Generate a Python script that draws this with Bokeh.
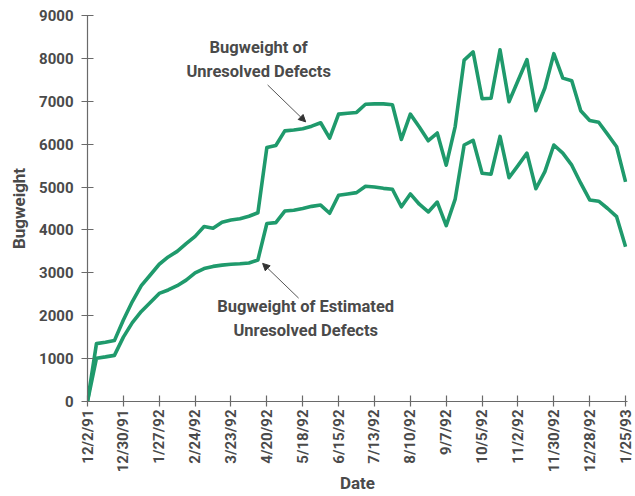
import pandas as pd
from math import pi
from bokeh.plotting import figure
from bokeh.models import Range1d, FixedTicker, Label, Arrow, NormalHead, ColumnDataSource
from bokeh.embed import file_html
from bokeh.resources import INLINE

# ---- data (weekly samples) ----
first_week = "1991-12-02"
n_weeks = 61

unresolved = [0, 1350, 1380, 1420, 1900, 2330, 2700, 2950, 3200, 3370,
              3500, 3680, 3850, 4080, 4040, 4180, 4230, 4260, 4320, 4400,
              5920, 5970, 6310, 6330, 6360, 6420, 6500, 6140, 6700, 6720,
              6740, 6930, 6940, 6940, 6920, 6110, 6700, 6400, 6080, 6260,
              5510, 6410, 7960, 8150, 7060, 7070, 8200, 6990, 7480, 7970,
              6780, 7310, 8110, 7540, 7480, 6780, 6550, 6510, 6230, 5940,
              5120]

estimated = [0, 1010, 1040, 1075, 1500, 1840, 2100, 2310, 2520, 2600,
             2700, 2830, 3000, 3100, 3150, 3180, 3200, 3210, 3230, 3300,
             4150, 4170, 4440, 4460, 4500, 4550, 4580, 4390, 4810, 4840,
             4870, 5020, 5000, 4970, 4950, 4540, 4840, 4600, 4420, 4650,
             4100, 4720, 5980, 6090, 5320, 5300, 6180, 5220, 5500, 5790,
             4960, 5360, 5980, 5790, 5510, 5090, 4700, 4670, 4500, 4310,
             3610]

tick_labels = ["12/2/91", "12/30/91", "1/27/92", "2/24/92", "3/23/92", "4/20/92",
               "5/18/92", "6/15/92", "7/13/92", "8/10/92", "9/7/92", "10/5/92",
               "11/2/92", "11/30/92", "12/28/92", "1/25/93"]
y_ticks = [0, 1000, 2000, 3000, 4000, 5000, 6000, 7000, 8000, 9000]

label_top = ["Bugweight of", "Unresolved Defects"]
label_bottom = ["Bugweight of Estimated", "Unresolved Defects"]


def ms(d):
    return int(pd.Timestamp(d).value // 10**6)


dates = pd.date_range(first_week, periods=n_weeks, freq="7D")
src = ColumnDataSource(dict(x=dates, u=unresolved, e=estimated))

tick_ms = [ms(pd.to_datetime(t, format="%m/%d/%y")) for t in tick_labels]

FONT = "Roboto"
GREEN = "#1f9a6c"
AXIS = "#6a6a6a"
TEXT = "#4a4a4a"

p = figure(width=635, height=496, x_axis_type="datetime",
           output_backend="svg", toolbar_location=None,
           x_range=Range1d(tick_ms[0], tick_ms[-1] + 1.5 * 86400000),
           y_range=Range1d(0, 9000),
           min_border_left=87, min_border_right=8, min_border_top=15,
           min_border_bottom=95)
p.outline_line_color = None
p.grid.visible = False
p.background_fill_color = "white"
p.border_fill_color = "white"

p.line("x", "u", source=src, line_color=GREEN, line_width=3.6, line_join="round")
p.line("x", "e", source=src, line_color=GREEN, line_width=3.6, line_join="round")

# axes
p.xaxis.ticker = FixedTicker(ticks=tick_ms)
p.xaxis.major_label_overrides = {t: l for t, l in zip(tick_ms, tick_labels)}
p.xaxis.major_label_orientation = pi / 2
p.yaxis.ticker = FixedTicker(ticks=y_ticks)
p.yaxis.formatter.use_scientific = False

for ax in (p.xaxis[0], p.yaxis[0]):
    ax.axis_line_color = AXIS
    ax.axis_line_width = 1.2
    ax.major_tick_line_color = AXIS
    ax.major_tick_line_width = 1.2
    ax.minor_tick_line_color = None
    ax.major_tick_in = 6
    ax.major_tick_out = 6
    ax.major_label_text_font = FONT
    ax.major_label_text_font_style = "bold"
    ax.major_label_text_font_size = "15px"
    ax.major_label_text_color = TEXT
    ax.axis_label_text_font = FONT
    ax.axis_label_text_font_style = "bold"
    ax.axis_label_text_font_size = "17px"
    ax.axis_label_text_color = TEXT

p.xaxis.major_tick_out = 5
p.xaxis.major_label_standoff = 3
p.yaxis.major_label_standoff = 8
p.xaxis.axis_label = "Date"
p.yaxis.axis_label = "Bugweight"
p.xaxis.axis_label_standoff = -2
p.yaxis.axis_label_standoff = 7

# annotations
D = 86400000
t0 = tick_ms[0]
for i, txt in enumerate(label_top):
    p.add_layout(Label(x=t0 + 133.6 * D, y=8250 - i * 560, text=txt,
                       text_align="center", text_baseline="middle",
                       text_font=FONT, text_font_style="bold",
                       text_font_size="16.5px", text_color=TEXT))
for i, txt in enumerate(label_bottom):
    p.add_layout(Label(x=t0 + 170.3 * D, y=2220 - i * 560, text=txt,
                       text_align="center", text_baseline="middle",
                       text_font=FONT, text_font_style="bold",
                       text_font_size="16.5px", text_color=TEXT))

p.add_layout(Arrow(end=NormalHead(size=7, fill_color="#333333", line_color="#333333"),
                   x_start=t0 + 140.6 * D, y_start=7380,
                   x_end=t0 + 170.3 * D, y_end=6520,
                   line_color="#555555", line_width=1))
p.add_layout(Arrow(end=NormalHead(size=7, fill_color="#333333", line_color="#333333"),
                   x_start=t0 + 164.8 * D, y_start=2410,
                   x_end=t0 + 136.7 * D, y_end=3220,
                   line_color="#555555", line_width=1))

open("out.html", "w").write(file_html(p, INLINE))
